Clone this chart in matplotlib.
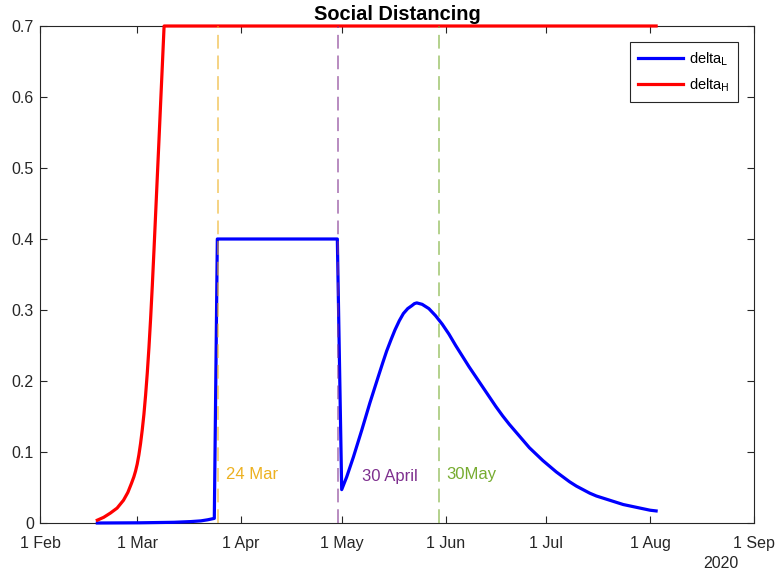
import matplotlib
matplotlib.use("Agg")
import matplotlib.pyplot as plt
import matplotlib.dates as mdates
from matplotlib.ticker import FuncFormatter
import datetime as dt

plt.rcParams['font.family'] = ['Liberation Sans', 'DejaVu Sans']

# ---- data (days after 1 Feb 2020) ----
red_days = [17.1, 19.0, 21.0, 23.0, 24.9, 26.2, 27.3, 28.0, 28.5, 29.0, 29.5, 30.0, 30.5,
            31.0, 31.5, 32.0, 32.5, 33.0, 33.5, 34.0, 34.5, 35.0, 35.5, 36.0, 36.5, 37.02, 183.8]
red_vals = [0.004, 0.008, 0.014, 0.021, 0.032, 0.043, 0.056, 0.065, 0.073, 0.083, 0.096, 0.112, 0.131,
            0.153, 0.180, 0.211, 0.247, 0.288, 0.334, 0.384, 0.436, 0.488, 0.540, 0.593, 0.645, 0.700, 0.700]

blue_days = [17.1, 30.0, 40.0, 45.0, 48.0, 50.0, 52.0, 52.9, 88.7, 90.0, 91.5, 93.5,
             96.0, 98.4, 100.9, 102.2, 103.4, 104.7, 105.9, 107.2, 108.4, 109.7, 110.9, 111.7,
             112.4, 114.0, 116.0, 118.0,
             120.0, 122.0, 124.0, 126.0, 128.0, 130.0, 132.0, 134.0, 136.0, 138.0, 140.0,
             142.0, 144.0, 146.0, 148.0, 150.0, 152.0, 154.0, 156.0, 158.0, 160.0, 162.0,
             164.0, 166.0, 168.0, 170.0, 172.0, 174.0, 176.0, 178.0, 180.0, 182.0, 183.8]
blue_vals = [0.000, 0.0003, 0.001, 0.002, 0.003, 0.0045, 0.0065, 0.400, 0.400, 0.047, 0.065, 0.093,
             0.131, 0.169, 0.206, 0.225, 0.242, 0.258, 0.272, 0.285, 0.295, 0.302, 0.306, 0.309,
             0.310, 0.308, 0.302, 0.292,
             0.280, 0.266, 0.250, 0.235, 0.220, 0.206, 0.192, 0.178, 0.164, 0.151, 0.139,
             0.128, 0.117, 0.106, 0.097, 0.088, 0.080, 0.072, 0.065, 0.058, 0.052, 0.047,
             0.042, 0.038, 0.035, 0.032, 0.029, 0.026, 0.024, 0.022, 0.020, 0.018, 0.017]

event_days = [53.0, 89.0, 119.0]
event_labels = ['24 Mar', '30 April', '30May']
event_colors = ['#EDB120', '#7E2F8E', '#77AC30']
label_days = [55.5, 96.1, 121.1]
label_y = [0.068, 0.066, 0.068]

base = dt.datetime(2020, 2, 1)
to_dates = lambda days: [base + dt.timedelta(days=d) for d in days]

fig = plt.figure(figsize=(7.76, 5.78), dpi=100)
ax = fig.add_axes([40/776, 1 - 523/578, 714/776, 497/578])

ax.plot(to_dates(blue_days), blue_vals, color='#0000FF', lw=2.3, label=r'delta$_\mathrm{L}$',
        clip_on=False, zorder=3)
ax.plot(to_dates(red_days), red_vals, color='#FF0000', lw=2.3, label=r'delta$_\mathrm{H}$',
        clip_on=False, zorder=3)

for d, lab, c, ld, ly in zip(event_days, event_labels, event_colors, label_days, label_y):
    ax.axvline(base + dt.timedelta(days=d), color=c, alpha=0.7, lw=1.1, dashes=(9, 4.5), zorder=4)
    ax.text(base + dt.timedelta(days=ld), ly, lab, color=c, fontsize=12, va='center', ha='left')

ax.set_xlim(dt.datetime(2020, 2, 1), dt.datetime(2020, 9, 1))
ax.set_ylim(0, 0.7)
ax.xaxis.set_major_locator(mdates.MonthLocator())
ax.xaxis.set_major_formatter(FuncFormatter(lambda x, p: f"{mdates.num2date(x).day} {mdates.num2date(x).strftime('%b')}"))
ax.set_yticks([0, 0.1, 0.2, 0.3, 0.4, 0.5, 0.6, 0.7])
ax.yaxis.set_major_formatter(FuncFormatter(lambda v, p: '0' if v == 0 else f'{v:g}'))

ax.tick_params(direction='in', length=5, width=0.8, colors='#262626', labelsize=11.5,
               top=True, right=True)
ax.tick_params(axis='x', pad=9.5)
ax.tick_params(axis='y', pad=4.5)
for s in ax.spines.values():
    s.set_color('#262626')
    s.set_linewidth(0.8)

ax.set_title('Social Distancing', fontsize=14.4, fontweight='bold', pad=4)
ax.text(1.0 - (754 - 738) / 714, -40.5 / 497, '2020', transform=ax.transAxes, ha='right', va='center',
        fontsize=11.5, color='#262626')

leg = ax.legend(loc='upper right', fontsize=10.5, handlelength=3.1, handletextpad=0.4,
                borderaxespad=1.1, fancybox=False, framealpha=1, edgecolor='#262626',
                labelspacing=0.6, borderpad=0.55)
leg.get_frame().set_linewidth(0.8)

fig.savefig('out.png', dpi=100)
